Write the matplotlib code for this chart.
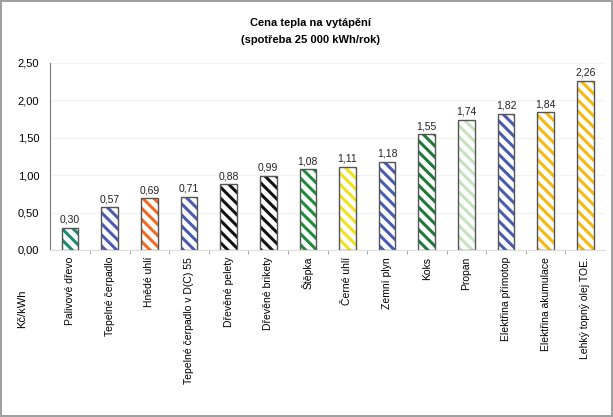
import matplotlib.pyplot as plt
import numpy as np

plt.rcParams['font.family'] = ['Liberation Sans', 'DejaVu Sans']
plt.rcParams['hatch.linewidth'] = 2.2

# data
categories = ['Palivové dřevo', 'Tepelné čerpadlo', 'Hnědé uhlí',
              'Tepelné čerpadlo v D(C) 55', 'Dřevěné pelety', 'Dřevěné brikety',
              'Štěpka', 'Černé uhlí', 'Zemní plyn', 'Koks', 'Propan',
              'Elektřina přímotop', 'Elektřina akumulace', 'Lehký topný olej TOE.']
values = [0.30, 0.57, 0.69, 0.71, 0.88, 0.99, 1.08, 1.11, 1.18, 1.55, 1.74, 1.82, 1.84, 2.26]
colors = ['#1f8a78', '#4a5cb0', '#f26a21', '#4a5cb0', '#111111', '#111111', '#1f8c3c',
          '#f2e21a', '#4a5cb0', '#1e7a38', '#c6e3bf', '#4a5cb0', '#f7b90d', '#f7b90d']
value_labels = ['0,30', '0,57', '0,69', '0,71', '0,88', '0,99', '1,08', '1,11', '1,18',
                '1,55', '1,74', '1,82', '1,84', '2,26']

fig = plt.figure(figsize=(6.13, 4.17), dpi=100)
fig.patch.set_edgecolor('#a0a0a0')
fig.patch.set_linewidth(1.5)
ax = fig.add_axes([0.082, 0.4005, 0.905, 0.4485])

x = np.arange(len(categories))
# hatch in the bar colour, then a separate outline
ax.bar(x, values, width=0.42, color='white', edgecolor=colors, hatch='\\\\\\', linewidth=0)
ax.bar(x, values, width=0.42, fill=False, edgecolor='#555555', linewidth=1.0)

for xi, v, lab in zip(x, values, value_labels):
    ax.text(xi, v + 0.04, lab, ha='center', va='bottom', fontsize=7.5, color='#222222')

ax.set_xlim(-0.5, len(categories) - 0.5)
ax.set_ylim(0, 2.5)
ax.set_yticks([0, 0.5, 1.0, 1.5, 2.0, 2.5])
ax.set_yticklabels(['0,00', '0,50', '1,00', '1,50', '2,00', '2,50'], fontsize=8)
ax.set_xticks(x)
ax.set_xticklabels(categories, rotation=90, fontsize=7.5)
ax.tick_params(axis='x', length=0, pad=5)
ax.tick_params(axis='y', length=0, pad=8)
ax.set_xticks(x[:-1] + 0.5, minor=True)
ax.tick_params(axis='x', which='minor', length=3, color='#999999')
ax.yaxis.grid(True, color='#f2f2f2', linewidth=0.8)
ax.set_axisbelow(True)

for s in ['top', 'right']:
    ax.spines[s].set_visible(False)
ax.spines['left'].set_color('#777777')
ax.spines['bottom'].set_color('#dddddd')

fig.text(0.506, 0.945, 'Cena tepla na vytápění', ha='center', va='center',
         fontsize=8, fontweight='bold')
fig.text(0.506, 0.905, '(spotřeba 25 000 kWh/rok)', ha='center', va='center',
         fontsize=8, fontweight='bold')
fig.text(0.036, 0.26, 'Kč/kWh', rotation=90, ha='center', va='center', fontsize=8)

fig.savefig('out.png', dpi=100)
